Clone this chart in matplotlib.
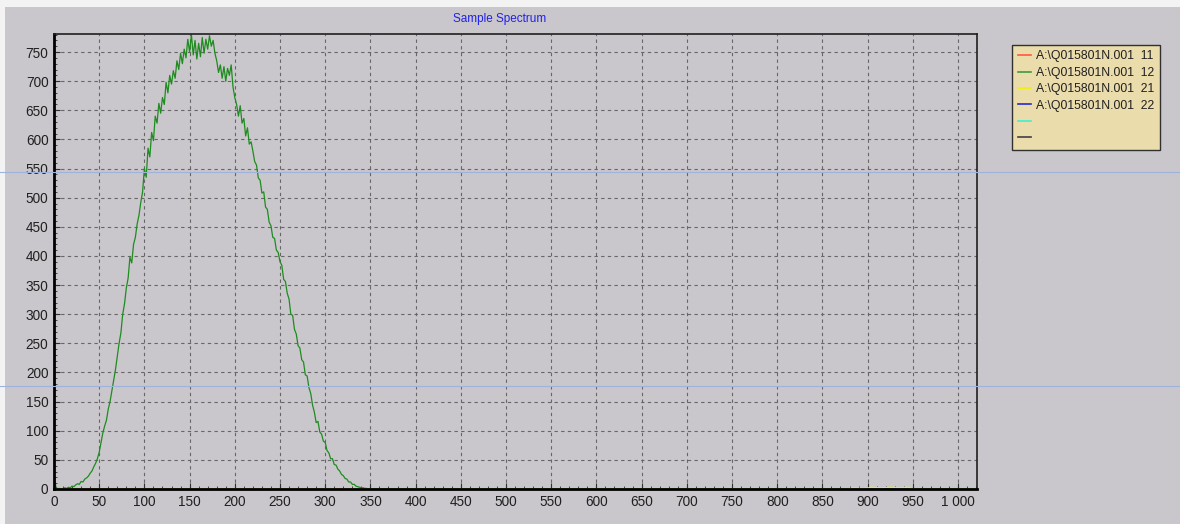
import matplotlib.pyplot as plt
import numpy as np
from matplotlib.lines import Line2D
from matplotlib.patches import Rectangle
from matplotlib.ticker import FuncFormatter, MultipleLocator

plt.rcParams["font.family"] = ["Liberation Sans", "DejaVu Sans"]

# Spectrum data (channel, counts)
channel_12 = list(range(0, 352, 2)) + [1023]
counts_12 = [
    25, 4, 0, 1, 0, 1, 2, 1, 3, 2,
    5, 4, 7, 9, 8, 13, 12, 17, 19, 22,
    27, 31, 38, 44, 52, 63, 80, 96, 108, 118,
    137, 150, 168, 186, 205, 228, 250, 268, 300, 318,
    345, 362, 398, 388, 420, 432, 455, 470, 492, 510,
    550, 535, 585, 570, 612, 598, 640, 628, 662, 645,
    672, 660, 698, 680, 710, 695, 718, 705, 735, 720,
    748, 730, 755, 740, 772, 750, 780, 745, 770, 738,
    765, 742, 775, 748, 772, 755, 778, 760, 770, 748,
    735, 715, 728, 705, 725, 700, 722, 710, 728, 690,
    672, 660, 640, 658, 628, 636, 606, 620, 592, 596,
    580, 562, 556, 534, 530, 508, 510, 484, 480, 458,
    452, 432, 430, 410, 406, 390, 384, 360, 356, 336,
    326, 300, 298, 274, 266, 246, 242, 222, 218, 196,
    194, 174, 164, 144, 132, 114, 116, 98, 94, 82,
    80, 66, 62, 52, 52, 42, 41, 34, 31, 25,
    23, 18, 17, 12, 12, 8, 8, 5, 4, 3,
    2, 2, 1, 1, 0, 0,
    0,
]

channel_21 = [0, 875, 885, 895, 905, 915, 925, 935, 945, 950, 1023]
counts_21 = [0, 0, 2, 1, 3, 2, 3, 2, 3, 0, 0]

channel_flat = [0, 1023]
counts_flat = [0, 0]

legend_labels = [
    r"A:\Q015801N.001  11",
    r"A:\Q015801N.001  12",
    r"A:\Q015801N.001  21",
    r"A:\Q015801N.001  22",
    "",
    "",
]
legend_colors = ["#ff5a3c", "#3c9c3c", "#f2f200", "#2828d8", "#40f0d0", "#404040"]

panel = "#c9c7cb"

fig = plt.figure(figsize=(11.8, 5.24), dpi=100)
fig.patch.set_facecolor("#f3f3f3")
fig.add_artist(Rectangle((5 / 1180, 0), 1, 1 - 7 / 524, transform=fig.transFigure,
                         facecolor=panel, edgecolor="none", zorder=0))

ax = fig.add_axes([54 / 1180, 35 / 524, 923 / 1180, 455 / 524])
ax.set_facecolor(panel)

ax.plot(channel_flat, counts_flat, color=legend_colors[0], lw=0.8)
ax.plot(channel_flat, counts_flat, color=legend_colors[3], lw=0.8)
ax.plot(channel_12, counts_12, color="#1e8c1e", lw=0.9)
ax.plot(channel_21, counts_21, color=legend_colors[2], lw=0.8)

ax.set_xlim(0, 1021)
ax.set_ylim(0, 781)

ax.xaxis.set_major_locator(MultipleLocator(50))
ax.xaxis.set_minor_locator(MultipleLocator(10))
ax.yaxis.set_major_locator(MultipleLocator(50))
ax.yaxis.set_minor_locator(MultipleLocator(10))
ax.xaxis.set_major_formatter(FuncFormatter(lambda v, p: f"{int(v):,}".replace(",", " ")))

ax.grid(True, which="major", linestyle=(0, (3, 3)), color="#666666", lw=0.8)
ax.tick_params(which="major", direction="in", length=4, labelsize=9.8, color="#303030",
               labelcolor="#202020", pad=4)
ax.tick_params(which="minor", direction="in", length=2, color="#303030")

for side in ["left", "bottom"]:
    ax.spines[side].set_linewidth(2)
    ax.spines[side].set_color("black")
for side in ["top", "right"]:
    ax.spines[side].set_linewidth(1.2)
    ax.spines[side].set_color("#202020")

fig.text(500 / 1180, 1 - 19 / 524, "Sample Spectrum", color="#2020ee", fontsize=8.5,
         ha="center", va="center")

handles = [Line2D([], [], color=c, lw=1.2) for c in legend_colors]
leg = fig.legend(handles, legend_labels, loc="upper left",
                 bbox_to_anchor=(1012 / 1180, 1 - 45 / 524), borderaxespad=0,
                 fontsize=8.8, frameon=True, fancybox=False, handlelength=1.1,
                 handletextpad=0.45, borderpad=0.45, labelspacing=0.36)
for t in leg.get_texts():
    t.set_color("#202020")
leg.get_frame().set_facecolor("#ebdcab")
leg.get_frame().set_edgecolor("#303030")
leg.get_frame().set_linewidth(1)
leg.get_frame().set_alpha(1)

# thin blue guide lines across the whole window
for y in [172, 386]:
    fig.add_artist(Line2D([0, 1], [1 - y / 524, 1 - y / 524], transform=fig.transFigure,
                          color="#9fb2dc", lw=0.8, zorder=5))

fig.savefig("out.png", dpi=100, facecolor=fig.get_facecolor())
